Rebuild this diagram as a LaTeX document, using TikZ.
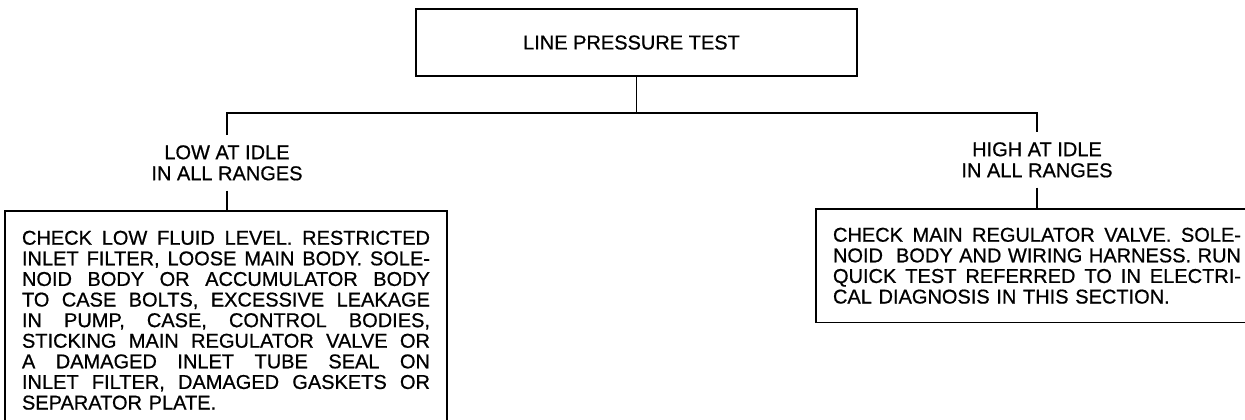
\documentclass[tikz,border=0pt]{standalone}
\usepackage{fontspec}
\setmainfont{Liberation Sans}[FakeBold=0.7]
\usetikzlibrary{positioning}
\newcommand{\jline}[1]{\hbox to 408pt{\spaceskip=0.278em plus 1fil\xspaceskip=\spaceskip\relax #1}}
\begin{document}
\begin{tikzpicture}[x=1pt, y=-1pt, line width=1.5pt,
    every node/.style={font=\fontsize{20}{20.6}\selectfont},
    topbox/.style={draw, minimum width=441pt, minimum height=67pt, inner sep=0pt},
    caselabel/.style={align=center, inner sep=9.5pt, font=\fontsize{20}{21}\selectfont},
    checkbox/.style={draw, align=left, text width=408pt, inner xsep=17pt}]
        \useasboundingbox (0,0) rectangle (1245,420);
        % Draw the test box
        \node[topbox] (test) at (636.5,42.5) {\hspace*{-10pt}LINE PRESSURE TEST};
        \coordinate (split) at (636.5,113);
        % Draw the two cases
        \node[caselabel, anchor=north] (low) at (227,135) {LOW AT IDLE\\IN ALL RANGES};
        \node[caselabel, anchor=north] (high) at (1037,132) {HIGH AT IDLE\\IN ALL RANGES};
        % Draw the check boxes
        \node[checkbox, inner ysep=20pt, anchor=north] (lowcheck) at (226,210) {%
        \jline{CHECK LOW FLUID LEVEL. RESTRICTED}
        \jline{INLET FILTER, LOOSE MAIN BODY. SOLE-}
        \jline{NOID BODY OR ACCUMULATOR BODY}
        \jline{TO CASE BOLTS, EXCESSIVE LEAKAGE}
        \jline{IN PUMP, CASE, CONTROL BODIES,}
        \jline{STICKING MAIN REGULATOR VALVE OR}
        \jline{A DAMAGED INLET TUBE SEAL ON}
        \jline{INLET FILTER, DAMAGED GASKETS OR}
        SEPARATOR PLATE.};
        \node[checkbox, inner ysep=19pt, anchor=north] (highcheck) at (1037,208) {%
        \jline{CHECK MAIN REGULATOR VALVE. SOLE-}
        \jline{NOID\ \ BODY AND WIRING HARNESS. RUN}
        \jline{QUICK TEST REFERRED TO IN ELECTRI-}
        CAL DIAGNOSIS IN THIS SECTION.};
        % Draw the connectors
        \draw (test) -- (split);
        \draw (low.north) -- (low.north |- split) -- (high.north |- split) -- (high.north);
        \draw (low.south) -- (low.south |- lowcheck.north);
        \draw (high.south) -- (high.south |- highcheck.north);
    \end{tikzpicture}
\end{document}
